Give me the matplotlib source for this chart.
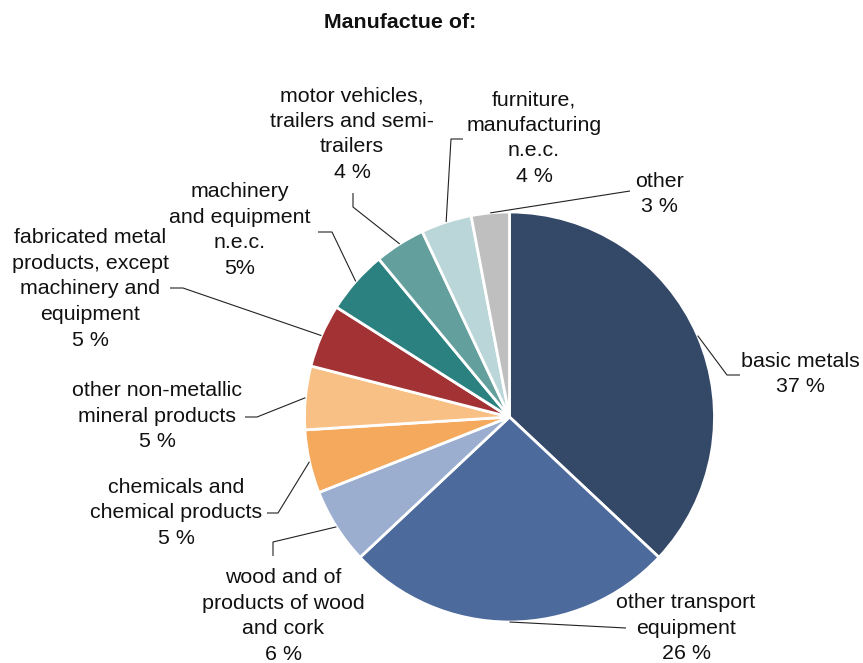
import numpy as np
import matplotlib
matplotlib.use("Agg")
from matplotlib import pyplot as plt

plt.rcParams.update({'font.family': ['Liberation Sans', 'DejaVu Sans'],
                     'font.size': 15.4})

categories = ['basic metals', 'other transport\nequipment',
              'wood and of\nproducts of wood\nand cork',
              'chemicals and\nchemical products',
              'other non-metallic\nmineral products',
              'fabricated metal\nproducts, except\nmachinery and\nequipment',
              'machinery\nand equipment\nn.e.c.',
              'motor vehicles,\ntrailers and semi-\ntrailers',
              'furniture,\nmanufacturing\nn.e.c.',
              'other']
values = [37, 26, 6, 5, 5, 5, 5, 4, 4, 3]
value_labels = ['37 %', '26 %', '6 %', '5 %', '5 %', '5 %', '5%', '4 %', '4 %', '3 %']
colors = ['#344868', '#4c6a9c', '#9baed0', '#f5a95d', '#f8c084',
          '#a23234', '#2b8080', '#639f9d', '#bbd6d8', '#bfbfbf']

W, H = 863, 663
fig = plt.figure(figsize=(W / 100, H / 100), dpi=100)
ax = fig.add_axes([0, 0, 1, 1])


def py(y):
    # pixel row (top-down) -> axes y (bottom-up)
    return H - y


cx, cy, r = 509.5, py(417), 205
wedges, _ = ax.pie(values, colors=colors, startangle=90, counterclock=False,
                   center=(cx, cy), radius=r, frame=True,
                   wedgeprops=dict(edgecolor='white', linewidth=2))
ax.set_xlim(0, W)
ax.set_ylim(0, H)
ax.set_aspect('equal')
ax.axis('off')

# label centre, then leader path (elbow..end) in pixel coords
layout = [
    ((800, 374), [(727, 375), (740, 375)]),
    ((686, 628), [(626, 628)]),
    ((283, 616), [(273, 542), (273, 556)]),
    ((176, 513), [(278, 513), (267, 513)]),
    ((157, 416), [(257, 417), (245, 417)]),
    ((90, 289), [(183, 288), (170, 288)]),
    ((240, 230), [(332, 232), (318, 232)]),
    ((352, 134), [(353, 207), (353, 193)]),
    ((534, 138), [(451, 139), (463, 139)]),
    ((659, 194), [(630, 191)]),
]

for w, name, val, (pos, path) in zip(wedges, categories, value_labels, layout):
    mid = np.deg2rad((w.theta1 + w.theta2) / 2)
    xs = [cx + r * np.cos(mid)] + [p[0] for p in path]
    ys = [cy + r * np.sin(mid)] + [py(p[1]) for p in path]
    ax.plot(xs, ys, color='#222222', linewidth=0.8, solid_capstyle='butt')
    ax.text(pos[0], py(pos[1]), name + '\n' + val, ha='center', va='center',
            multialignment='center', linespacing=1.44, color='#111111')

ax.text(400, py(22), 'Manufactue of:', ha='center', va='center',
        fontweight='bold', color='#111111')

fig.savefig('out.png', dpi=100)
